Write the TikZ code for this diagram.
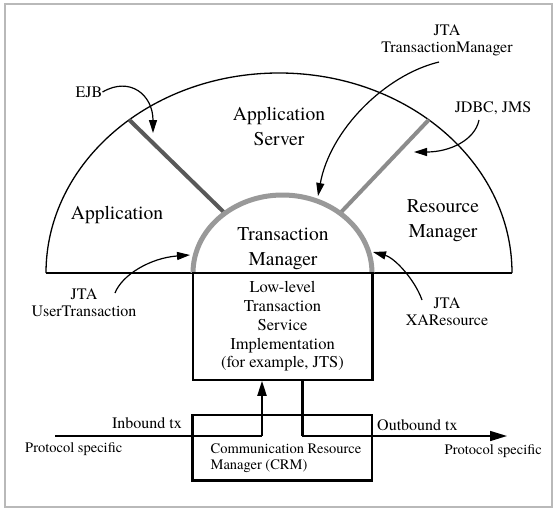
\documentclass[tikz,border=0pt]{standalone}
\usepackage{fontspec}
\setmainfont{texgyretermes}[Extension=.otf,UprightFont=*-regular,BoldFont=*-bold]
\usetikzlibrary{arrows.meta}

\tikzset{
  biglabel/.style={align=center,font=\fontsize{19.5}{25}\selectfont,inner sep=0pt},
  boxtext/.style={align=center,font=\fontsize{16.5}{18.8}\selectfont,inner sep=0pt},
  notelabel/.style={align=center,font=\fontsize{16}{17.5}\selectfont,inner sep=0pt},
  protolabel/.style={font=\fontsize{14.5}{15.5}\selectfont,inner sep=0pt},
  pointer/.style={-{Triangle[length=13pt,width=8pt]},line width=1.2pt},
}

\begin{document}
\begin{tikzpicture}[x=1pt,y=-1pt]
            \useasboundingbox (0,0) rectangle (554,509);
            \draw[gray!55,line width=2.5pt] (5,4) rectangle (552,507);
            \begin{scope}
                \draw[line width=1.3pt] (46,273) arc[start angle=180,end angle=360,x radius=233,y radius=200];
                \draw[line width=2.5pt] (46,273) -- (193,273) (372,273) -- (512,273);
                \draw[line width=2.5pt,dash pattern=on 9pt off 5pt] (193,273) -- (372,273);
            \end{scope}
            \begin{scope}
                \draw[black!65,line width=4pt] (129.2,119.8) -- (225,213.3);
                \draw[black!45,line width=4pt] (428.8,119.8) -- (340,213.3);
                \draw[black!40,line width=5pt] (193,273) arc[start angle=180,end angle=360,x radius=89.5,y radius=78];
            \end{scope}
            \node[biglabel] (appsrv) at (279,126.5) {Application\\Server};
            \node[biglabel] (app) at (117,215) {Application};
            \node[biglabel] (resmgr) at (443,220.5) {Resource\\Manager};
            \node[biglabel] (txmgr) at (283,248.5) {Transaction\\Manager};
            \node[draw,line width=1.5pt,minimum width=179pt,minimum height=107pt,boxtext] (lowlevel) at (282.5,326.5)
                {Low-level\\Transaction\\Service\\Implementation\\(for example, JTS)};
            \draw[line width=2.5pt] (lowlevel.north east) -- (lowlevel.south east);
            \node[draw,line width=1.3pt,minimum width=179pt,minimum height=65pt] (crm) at (282.5,447.5) {};
            \draw[line width=3pt] (crm.north west) -- (crm.south west) -- (crm.south east);
            \node[protolabel,align=left] (crmtext) at (286,458) {Communication Resource\\Manager (CRM)};
            \coordinate (inleft) at (55,436);
            \coordinate (inbend) at (262,436);
            \coordinate (outbend) at (302,436);
            \coordinate (outright) at (507,436);
            \draw[line width=1.5pt] (inleft) -- (inbend);
            \draw[line width=2pt,-{Triangle[length=15pt,width=9pt]}] (inbend) -- (inbend |- lowlevel.south);
            \draw[line width=3pt] (outbend |- lowlevel.south) -- (outbend);
            \draw[line width=1.5pt,-{Triangle[length=17pt,width=10pt]}] (outbend) -- (outright);
            \node[protolabel,font=\fontsize{16}{17}\selectfont,anchor=east] (inbound) at (182,423) {Inbound tx};
            \node[protolabel,anchor=west] (protoleft) at (25,449) {Protocol specific};
            \node[protolabel,font=\fontsize{16}{17}\selectfont,anchor=west] (outbound) at (377,425) {Outbound tx};
            \node[protolabel,anchor=east] (protoright) at (542,451) {Protocol specific};
            \node[notelabel] (ejb) at (89,92) {EJB};
            \node[notelabel] (jtatm) at (447,40.5) {JTA\\TransactionManager};
            \node[notelabel] (jdbc) at (493,108) {JDBC, JMS};
            \node[notelabel] (jtaut) at (84,302.5) {JTA\\UserTransaction};
            \node[notelabel] (jtaxa) at (447,311.5) {JTA\\XAResource};
            \coordinate (ejbtip) at (153,133);
            \coordinate (tmtip) at (318,196);
            \coordinate (jdbctip) at (414,152);
            \coordinate (uttip) at (190,255);
            \coordinate (xatip) at (373,252);
            \draw[pointer] (ejb.east) .. controls (130,76) and (153,95) .. (ejbtip);
            \draw[pointer] (439,62) .. controls (385,75) and (330,130) .. (tmtip);
            \draw[pointer] (479,120) .. controls (475,140) and (450,152) .. (jdbctip);
            \draw[pointer] (115,293) .. controls (122,275) and (150,258) .. (uttip);
            \draw[pointer] (422,300) .. controls (415,280) and (395,258) .. (xatip);
        \end{tikzpicture}
\end{document}
